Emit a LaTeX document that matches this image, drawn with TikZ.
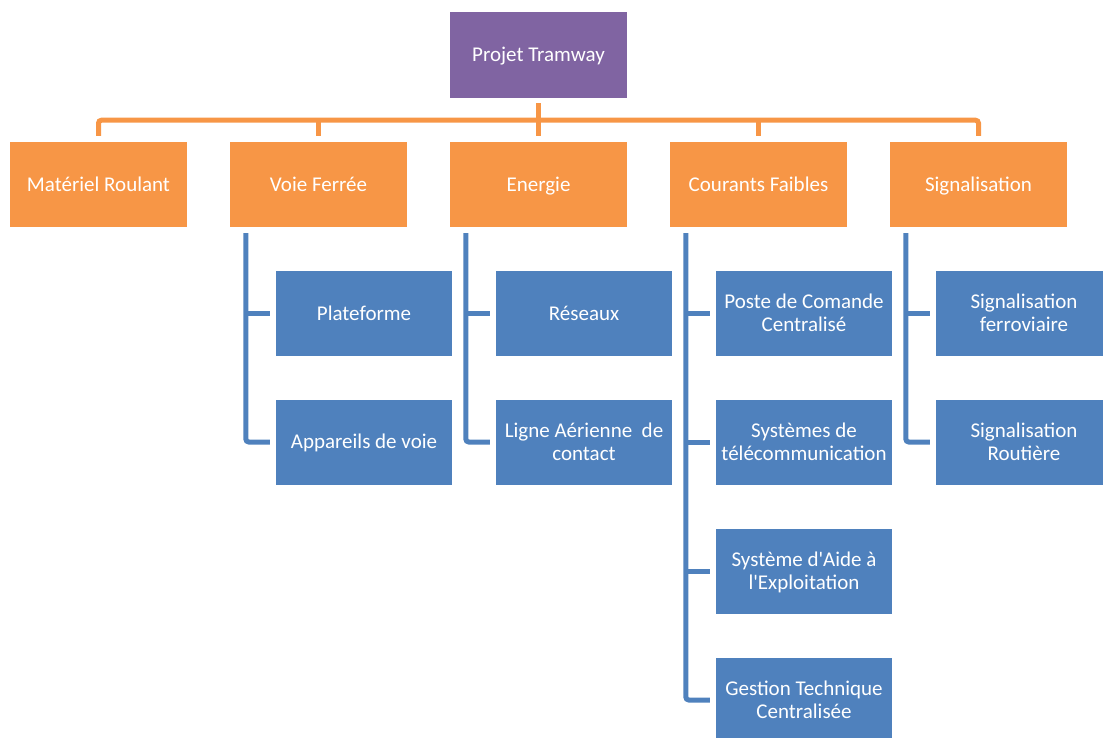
\documentclass[tikz,border=0pt]{standalone}
\usepackage{fontspec}
\setmainfont{Carlito}
\usetikzlibrary{calc}
\definecolor{orangeC}{HTML}{F79646}
\definecolor{purpleC}{HTML}{8064A2}
\definecolor{blueC}{HTML}{4F81BD}
\newcommand\boxtext[1]{\raisebox{-2.2pt}[\height][\depth]{\begin{tabular}{@{}c@{}}#1\end{tabular}}}
\tikzset{
  box/.style={rectangle, inner sep=2pt, text=white,
    font=\fontsize{21}{23}\selectfont},
  topbox/.style={box, fill=purpleC, minimum width=177pt, minimum height=86pt},
  obox/.style={box, fill=orangeC, minimum width=177pt, minimum height=85pt},
  bbox/.style={box, fill=blueC, minimum width=176pt, minimum height=85pt},
  oline/.style={draw=orangeC, line width=5pt, rounded corners=3pt},
  bline/.style={draw=blueC, line width=5pt, rounded corners=3pt},
}
\begin{document}
\begin{tikzpicture}[x=1pt,y=-1pt]
\useasboundingbox (0,0) rectangle (1103,738);
\clip (0,0) rectangle (1103,738);
% top
\node[topbox] (top) at (538.5,55) {\boxtext{Projet Tramway}};
% level 1
\node[obox] (mr) at (98.5,184.5) {\boxtext{Matériel Roulant}};
\node[obox] (vf) at (318.5,184.5) {\boxtext{Voie Ferrée}};
\node[obox] (en) at (538.5,184.5) {\boxtext{Energie}};
\node[obox] (cf) at (758.5,184.5) {\boxtext{Courants Faibles}};
\node[obox] (sg) at (978.5,184.5) {\boxtext{Signalisation}};
% level 2
\node[bbox] (pl) at (364,313.5) {\boxtext{Plateforme}};
\node[bbox] (ap) at (364,442) {\boxtext{Appareils de voie}};
\node[bbox] (re) at (584,313.5) {\boxtext{Réseaux}};
\node[bbox] (la) at (584,442) {\boxtext{Ligne Aérienne~ de\\contact}};
\node[bbox] (pc) at (804,313.5) {\boxtext{Poste de Comande\\Centralisé}};
\node[bbox] (st) at (804,442) {\boxtext{Systèmes de\\télécommunication}};
\node[bbox] (sa) at (804,571) {\boxtext{Système d\textquotesingle Aide à\\l\textquotesingle Exploitation}};
\node[bbox] (gt) at (804,700) {\boxtext{Gestion Technique\\Centralisée}};
\node[bbox] (sf) at (1024,313.5) {\boxtext{Signalisation\\ferroviaire}};
\node[bbox] (sr) at (1024,442) {\boxtext{Signalisation\\Routière}};
% orange connectors
\coordinate (bar) at ($(top.south)+(0,22)$);
\draw[oline] ($(mr.north)+(0,-6)$) |- (bar -| sg.north) -- ($(sg.north)+(0,-6)$);
\draw[oline] ($(top.south)+(0,5)$) -- ($(en.north)+(0,-6)$);
\draw[oline] (bar -| vf.north) -- ($(vf.north)+(0,-6)$);
\draw[oline] (bar -| cf.north) -- ($(cf.north)+(0,-6)$);
% blue connectors
\coordinate (vfx) at ($(vf.south west)+(16,6)$);
\draw[bline] (vfx) |- ($(ap.west)+(-6,0)$);
\draw[bline] (vfx |- pl.west) -- ($(pl.west)+(-6,0)$);
\coordinate (enx) at ($(en.south west)+(16,6)$);
\draw[bline] (enx) |- ($(la.west)+(-6,0)$);
\draw[bline] (enx |- re.west) -- ($(re.west)+(-6,0)$);
\coordinate (cfx) at ($(cf.south west)+(16,6)$);
\draw[bline] (cfx) |- ($(gt.west)+(-6,0)$);
\draw[bline] (cfx |- pc.west) -- ($(pc.west)+(-6,0)$);
\draw[bline] (cfx |- st.west) -- ($(st.west)+(-6,0)$);
\draw[bline] (cfx |- sa.west) -- ($(sa.west)+(-6,0)$);
\coordinate (sgx) at ($(sg.south west)+(16,6)$);
\draw[bline] (sgx) |- ($(sr.west)+(-6,0)$);
\draw[bline] (sgx |- sf.west) -- ($(sf.west)+(-6,0)$);
\end{tikzpicture}
\end{document}
